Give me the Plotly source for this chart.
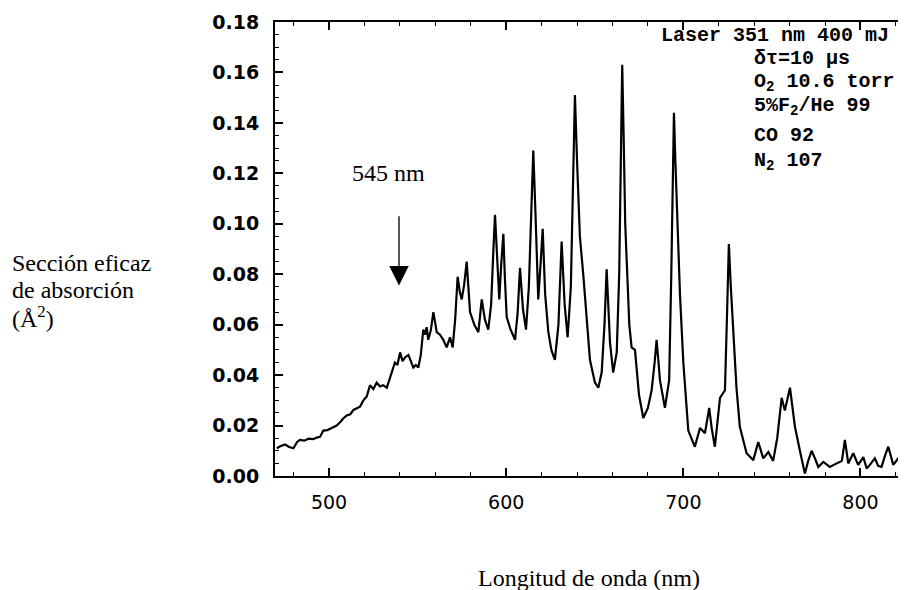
import plotly.graph_objects as go

# ---- data ----
wavelength_nm = [
    470.5, 472.5, 475.2, 477.5, 479.9, 482.0, 483.6, 486.0, 488.5, 491.0, 493.0, 494.9,
    496.8, 499.0, 501.5, 504.3, 506.5, 508.0, 510.0, 512.0, 513.8, 515.6, 517.5, 519.4,
    521.3, 523.1, 525.0, 526.9, 528.8, 530.5, 532.6, 534.0, 535.4, 537.2, 538.6, 540.1,
    541.5, 542.9, 544.8, 546.2, 547.6, 549.0, 550.4, 551.8, 553.2, 554.2, 555.1, 556.0,
    557.5, 558.9, 560.0, 560.8, 562.6, 564.5, 566.4, 568.3, 569.8, 571.2, 572.6, 573.8,
    574.9, 576.3, 577.7, 578.6, 579.6, 582.0, 584.3, 586.2, 587.0, 588.0, 589.9, 591.5,
    592.8, 593.7, 594.8, 596.1, 597.3, 598.4, 599.3, 600.3, 602.5, 605.0, 606.5, 607.8,
    609.5, 611.2, 612.8, 614.3, 615.3, 616.5, 618.1, 619.5, 620.6, 622.0, 623.8, 625.5,
    627.5, 629.5, 631.3, 633.0, 634.7, 636.5, 637.8, 638.8, 640.0, 641.6, 643.5, 645.0,
    647.3, 650.1, 652.0, 653.9, 655.5, 656.7, 657.8, 658.6, 660.4, 662.4, 663.8, 664.8,
    665.5, 666.3, 667.2, 668.0, 669.5, 670.8, 672.7, 675.0, 677.4, 680.0, 682.1, 683.8,
    684.9, 686.0, 686.8, 689.6, 692.0, 693.2, 694.0, 694.7, 695.5, 696.8, 698.1, 700.0,
    702.8, 706.5, 709.4, 712.2, 714.6, 716.0, 717.8, 720.7, 723.5, 724.7, 725.7, 726.8,
    728.2, 730.0, 731.9, 735.7, 739.5, 742.3, 745.1, 748.0, 750.7, 753.0, 755.5, 757.3,
    760.2, 763.0, 765.8, 768.6, 770.5, 772.4, 774.3, 776.2, 779.0, 782.7, 786.5, 789.5,
    791.2, 793.1, 795.9, 798.7, 801.6, 803.5, 805.3, 808.1, 810.0, 811.9, 813.8, 815.7,
    818.5, 821.3, 823.5,
]
cross_section = [
    0.0110, 0.0118, 0.0125, 0.0115, 0.0110, 0.0135, 0.0143, 0.0140, 0.0148, 0.0146, 0.0152, 0.0155,
    0.0180, 0.0182, 0.0190, 0.0200, 0.0215, 0.0228, 0.0240, 0.0245, 0.0262, 0.0270, 0.0275, 0.0300,
    0.0315, 0.0360, 0.0345, 0.0370, 0.0355, 0.0360, 0.0350, 0.0380, 0.0410, 0.0450, 0.0440, 0.0490,
    0.0455, 0.0470, 0.0480, 0.0455, 0.0430, 0.0440, 0.0430, 0.0480, 0.0580, 0.0560, 0.0590, 0.0540,
    0.0580, 0.0650, 0.0600, 0.0570, 0.0560, 0.0540, 0.0510, 0.0550, 0.0510, 0.0620, 0.0790, 0.0730,
    0.0700, 0.0760, 0.0850, 0.0740, 0.0650, 0.0600, 0.0570, 0.0700, 0.0660, 0.0620, 0.0580, 0.0680,
    0.0900, 0.1036, 0.0880, 0.0700, 0.0850, 0.0960, 0.0780, 0.0630, 0.0580, 0.0540, 0.0650, 0.0825,
    0.0660, 0.0580, 0.0750, 0.1100, 0.1290, 0.1050, 0.0700, 0.0850, 0.0980, 0.0720, 0.0570, 0.0500,
    0.0460, 0.0600, 0.0930, 0.0680, 0.0550, 0.0750, 0.1200, 0.1510, 0.1250, 0.0950, 0.0800, 0.0670,
    0.0460, 0.0370, 0.0350, 0.0410, 0.0600, 0.0820, 0.0650, 0.0530, 0.0410, 0.0490, 0.0800, 0.1350,
    0.1630, 0.1350, 0.1000, 0.0860, 0.0600, 0.0510, 0.0500, 0.0320, 0.0230, 0.0270, 0.0340, 0.0450,
    0.0540, 0.0450, 0.0380, 0.0270, 0.0380, 0.0800, 0.1250, 0.1440, 0.1250, 0.0950, 0.0720, 0.0450,
    0.0180, 0.0116, 0.0190, 0.0170, 0.0270, 0.0190, 0.0116, 0.0310, 0.0340, 0.0650, 0.0920, 0.0750,
    0.0590, 0.0350, 0.0195, 0.0090, 0.0063, 0.0135, 0.0070, 0.0095, 0.0060, 0.0150, 0.0310, 0.0260,
    0.0350, 0.0195, 0.0100, 0.0010, 0.0060, 0.0100, 0.0070, 0.0036, 0.0056, 0.0036, 0.0050, 0.0060,
    0.0143, 0.0050, 0.0090, 0.0044, 0.0075, 0.0030, 0.0044, 0.0070, 0.0040, 0.0036, 0.0080, 0.0116,
    0.0044, 0.0070, 0.0036,
]
x_ticks = [500, 600, 700, 800]
y_ticks = [0.00, 0.02, 0.04, 0.06, 0.08, 0.10, 0.12, 0.14, 0.16, 0.18]
y_tick_labels = ["0.00", "0.02", "0.04", "0.06", "0.08", "0.10", "0.12", "0.14", "0.16", "0.18"]
x_range = [469.5, 824.0]
y_range = [0.0, 0.18]

marker_nm = 539.5          # arrow position
marker_label = "545 nm"
conditions = ["δτ=10 μs", "O<sub>2</sub> 10.6 torr", "5%F<sub>2</sub>/He 99",
              "CO 92", "N<sub>2</sub> 107"]
laser_line = "Laser 351 nm 400 mJ"
y_title_lines = ["Sección eficaz", "de absorción", "(Å<sup>2</sup>)"]
x_title = "Longitud de onda (nm)"

# ---- figure ----
fig = go.Figure()
fig.add_trace(go.Scatter(x=wavelength_nm, y=cross_section, mode="lines",
                         line=dict(color="black", width=2.2), showlegend=False,
                         hoverinfo="skip"))

# page has an 8px body margin: figure is 898x582 placed at (8, 8)
W, H = 898, 582
L, R, T, B = 267, 3, 14, 114
pw, ph = W - L - R, H - T - B
OFF = 8

def px_x(px):
    return (px - OFF - L) / pw

def px_y(py):
    return (H - B - (py - OFF)) / ph

mono = "Liberation Mono"
serif = "Liberation Serif"

ann = []
ann.append(dict(text="<b>" + laser_line + "</b>", xref="paper", yref="paper",
                x=px_x(891), y=px_y(35), xanchor="right", yanchor="middle",
                showarrow=False, font=dict(family=mono, size=20, color="black")))
cond_y = [59, 82, 106, 136, 162]
for txt, py in zip(conditions, cond_y):
    ann.append(dict(text="<b>" + txt + "</b>", xref="paper", yref="paper",
                    x=px_x(752), y=px_y(py), xanchor="left", yanchor="middle",
                    showarrow=False, font=dict(family=mono, size=20, color="black")))

for txt, py in zip(y_title_lines, [263, 290, 317]):
    ann.append(dict(text=txt, xref="paper", yref="paper", x=px_x(10), y=px_y(py),
                    xanchor="left", yanchor="middle", showarrow=False,
                    font=dict(family=serif, size=24, color="black")))

ann.append(dict(text=x_title, xref="paper", yref="paper", x=0.5, y=px_y(578),
                xanchor="center", yanchor="middle", showarrow=False,
                font=dict(family=serif, size=24, color="black")))

ann.append(dict(text=marker_label, xref="x", yref="y", x=533.3, y=0.120,
                xanchor="center", yanchor="middle", showarrow=False,
                font=dict(family=serif, size=24, color="black")))
ann.append(dict(text="", xref="x", yref="y", x=marker_nm, y=0.0755,
                axref="x", ayref="y", ax=marker_nm, ay=0.1036,
                showarrow=True, arrowhead=2, arrowsize=3, arrowwidth=1.3,
                arrowcolor="black", standoff=0))

fig.update_layout(
    width=W, height=H,
    margin=dict(l=L, r=R, t=T, b=B, pad=0),
    paper_bgcolor="white", plot_bgcolor="white",
    annotations=ann,
    shapes=[dict(type="line", xref="paper", yref="paper", x0=1, x1=1, y0=0, y1=1,
                 line=dict(color="black", width=1.5, dash="dot"))],
)
fig.update_xaxes(range=x_range, tickvals=x_ticks, ticktext=[str(v) for v in x_ticks],
                 ticks="inside", ticklen=8, tickwidth=1.5, tickcolor="black",
                 showline=True, linecolor="black", linewidth=2, mirror="ticks",
                 showgrid=False, zeroline=False, ticklabelstandoff=8,
                 tickfont=dict(family="DejaVu Sans", size=19, color="black"),
                 minor=dict(dtick=20, tick0=0, ticks="inside", ticklen=4,
                            tickcolor="black", tickwidth=1))
fig.update_yaxes(range=y_range, tickvals=y_ticks, ticktext=y_tick_labels,
                 ticks="inside", ticklen=8, tickwidth=1.5, tickcolor="black",
                 showline=True, linecolor="black", linewidth=2, mirror=False,
                 showgrid=False, zeroline=False, ticklabelstandoff=10,
                 tickfont=dict(family="DejaVu Sans", size=19, color="black", weight="bold"),
                 minor=dict(dtick=0.005, tick0=0, ticks="inside", ticklen=4,
                            tickcolor="black", tickwidth=1))

fig.write_html("out.html")
